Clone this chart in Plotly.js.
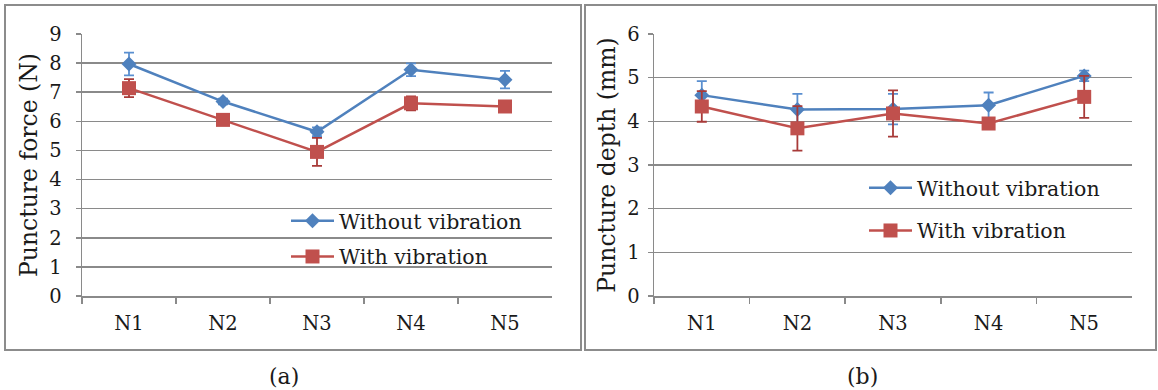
<!DOCTYPE html>
<html>
<head>
<meta charset="utf-8">
<script src="https://cdn.plot.ly/plotly-3.0.1.min.js"></script>
<style>html,body{margin:0;padding:0;background:#fff}#chart{width:1158px;height:390px}</style>
</head>
<body>
<div id="chart"></div>
<script>
var categories = ['N1', 'N2', 'N3', 'N4', 'N5'];
var forceWithout = [7.97, 6.68, 5.64, 7.77, 7.43];
var forceWithoutErr = [0.39, 0.1, 0.15, 0.22, 0.3];
var forceWith = [7.14, 6.05, 4.95, 6.62, 6.51];
var forceWithErr = [0.31, 0.1, 0.48, 0.24, 0.1];
var depthWithout = [4.60, 4.27, 4.28, 4.37, 5.04];
var depthWithoutErr = [0.32, 0.36, 0.35, 0.29, 0.12];
var depthWith = [4.34, 3.84, 4.18, 3.95, 4.56];
var depthWithErr = [0.35, 0.51, 0.53, 0.1, 0.48];
var seriesNames = ['Without vibration', 'With vibration'];
var panelLabels = ['(a)', '(b)'];
var yTitles = ['Puncture force (N)', 'Puncture depth (mm)'];

var W = 1158, H = 390;
var FONT = 'DejaVu Serif';
var TXT = '#1a1a1a';
var BLUE = '#4F81BD', RED = '#C0504D';
var GRID = '#8a8a8a';

function px(x) { return x / W; }
function py(y) { return 1 - y / H; }

function tr(y, err, name, color, sym, size, xa, ya, leg, grp, ecolor) {
  return {
    x: categories, y: y, name: name, type: 'scatter', mode: 'lines+markers',
    xaxis: xa, yaxis: ya, legend: leg, legendgroup: grp,
    line: {color: color, width: 2.5},
    marker: {symbol: sym, size: size, color: color},
    error_y: {type: 'data', array: err, visible: true, color: ecolor, thickness: 1.8, width: 5}
  };
}

var data = [
  tr(forceWithout, forceWithoutErr, seriesNames[0], BLUE, 'diamond', 11.5, 'x', 'y', 'legend', 'a1', '#5A8FD0'),
  tr(forceWith, forceWithErr, seriesNames[1], RED, 'square', 14, 'x', 'y', 'legend', 'a2', '#A83A38'),
  tr(depthWithout, depthWithoutErr, seriesNames[0], BLUE, 'diamond', 11.5, 'x2', 'y2', 'legend2', 'b1', '#5A8FD0'),
  tr(depthWith, depthWithErr, seriesNames[1], RED, 'square', 14, 'x2', 'y2', 'legend2', 'b2', '#A83A38')
];

function xaxis(d0, d1, anchor) {
  return {
    domain: [px(d0), px(d1)], anchor: anchor, type: 'category',
    range: [-0.5, 4.5], tickson: 'boundaries', ticks: 'outside', ticklen: 6,
    tickwidth: 1.5, tickcolor: GRID, showline: true, linecolor: GRID, linewidth: 1.5,
    showgrid: false, zeroline: false, fixedrange: true, ticklabelstandoff: 9,
    tickfont: {family: FONT, size: 19.5, color: TXT}
  };
}
function yaxis(maxv, title, anchor, lblOff) {
  return {
    domain: [py(296), py(34)], anchor: anchor, range: [0, maxv], dtick: 1,
    ticks: 'outside', ticklen: 5, tickwidth: 1.5, tickcolor: GRID,
    showline: true, linecolor: GRID, linewidth: 1.5, ticklabelstandoff: lblOff,
    showgrid: true, gridcolor: GRID, gridwidth: 1.5, zeroline: false, fixedrange: true,
    tickfont: {family: FONT, size: 19.5, color: TXT},
    title: {text: title, font: {family: FONT, size: 23.5, color: TXT}, standoff: 5}
  };
}

var legendBase = {
  font: {family: FONT, size: 20.5, color: TXT}, bgcolor: 'rgba(0,0,0,0)',
  xanchor: 'left', yanchor: 'top', traceorder: 'grouped', itemwidth: 43
};

var layout = {
  width: W, height: H, margin: {l: 0, r: 0, t: 0, b: 0},
  paper_bgcolor: '#fff', plot_bgcolor: '#fff', showlegend: true,
  xaxis: xaxis(82, 552, 'y'),
  yaxis: yaxis(9, yTitles[0], 'x', 10),
  xaxis2: xaxis(654, 1132, 'y2'),
  yaxis2: yaxis(6, yTitles[1], 'x2', 4),
  legend: Object.assign({}, legendBase, {x: px(286), y: py(201), tracegroupgap: 6}),
  legend2: Object.assign({}, legendBase, {x: px(864), y: py(168), tracegroupgap: 13}),
  shapes: [
    {type: 'rect', xref: 'paper', yref: 'paper', x0: px(5), x1: px(581), y0: py(5), y1: py(350), line: {color: '#8c8c8c', width: 2}},
    {type: 'rect', xref: 'paper', yref: 'paper', x0: px(585), x1: px(1156), y0: py(5), y1: py(350), line: {color: '#8c8c8c', width: 2}}
  ],
  annotations: [
    {text: panelLabels[0], xref: 'paper', yref: 'paper', x: px(284), y: py(376), xanchor: 'center', yanchor: 'middle', showarrow: false, font: {family: FONT, size: 22, color: TXT}},
    {text: panelLabels[1], xref: 'paper', yref: 'paper', x: px(862), y: py(376), xanchor: 'center', yanchor: 'middle', showarrow: false, font: {family: FONT, size: 22, color: TXT}}
  ]
};

Plotly.newPlot('chart', data, layout, {displayModeBar: false, staticPlot: true});
</script>
</body>
</html>
